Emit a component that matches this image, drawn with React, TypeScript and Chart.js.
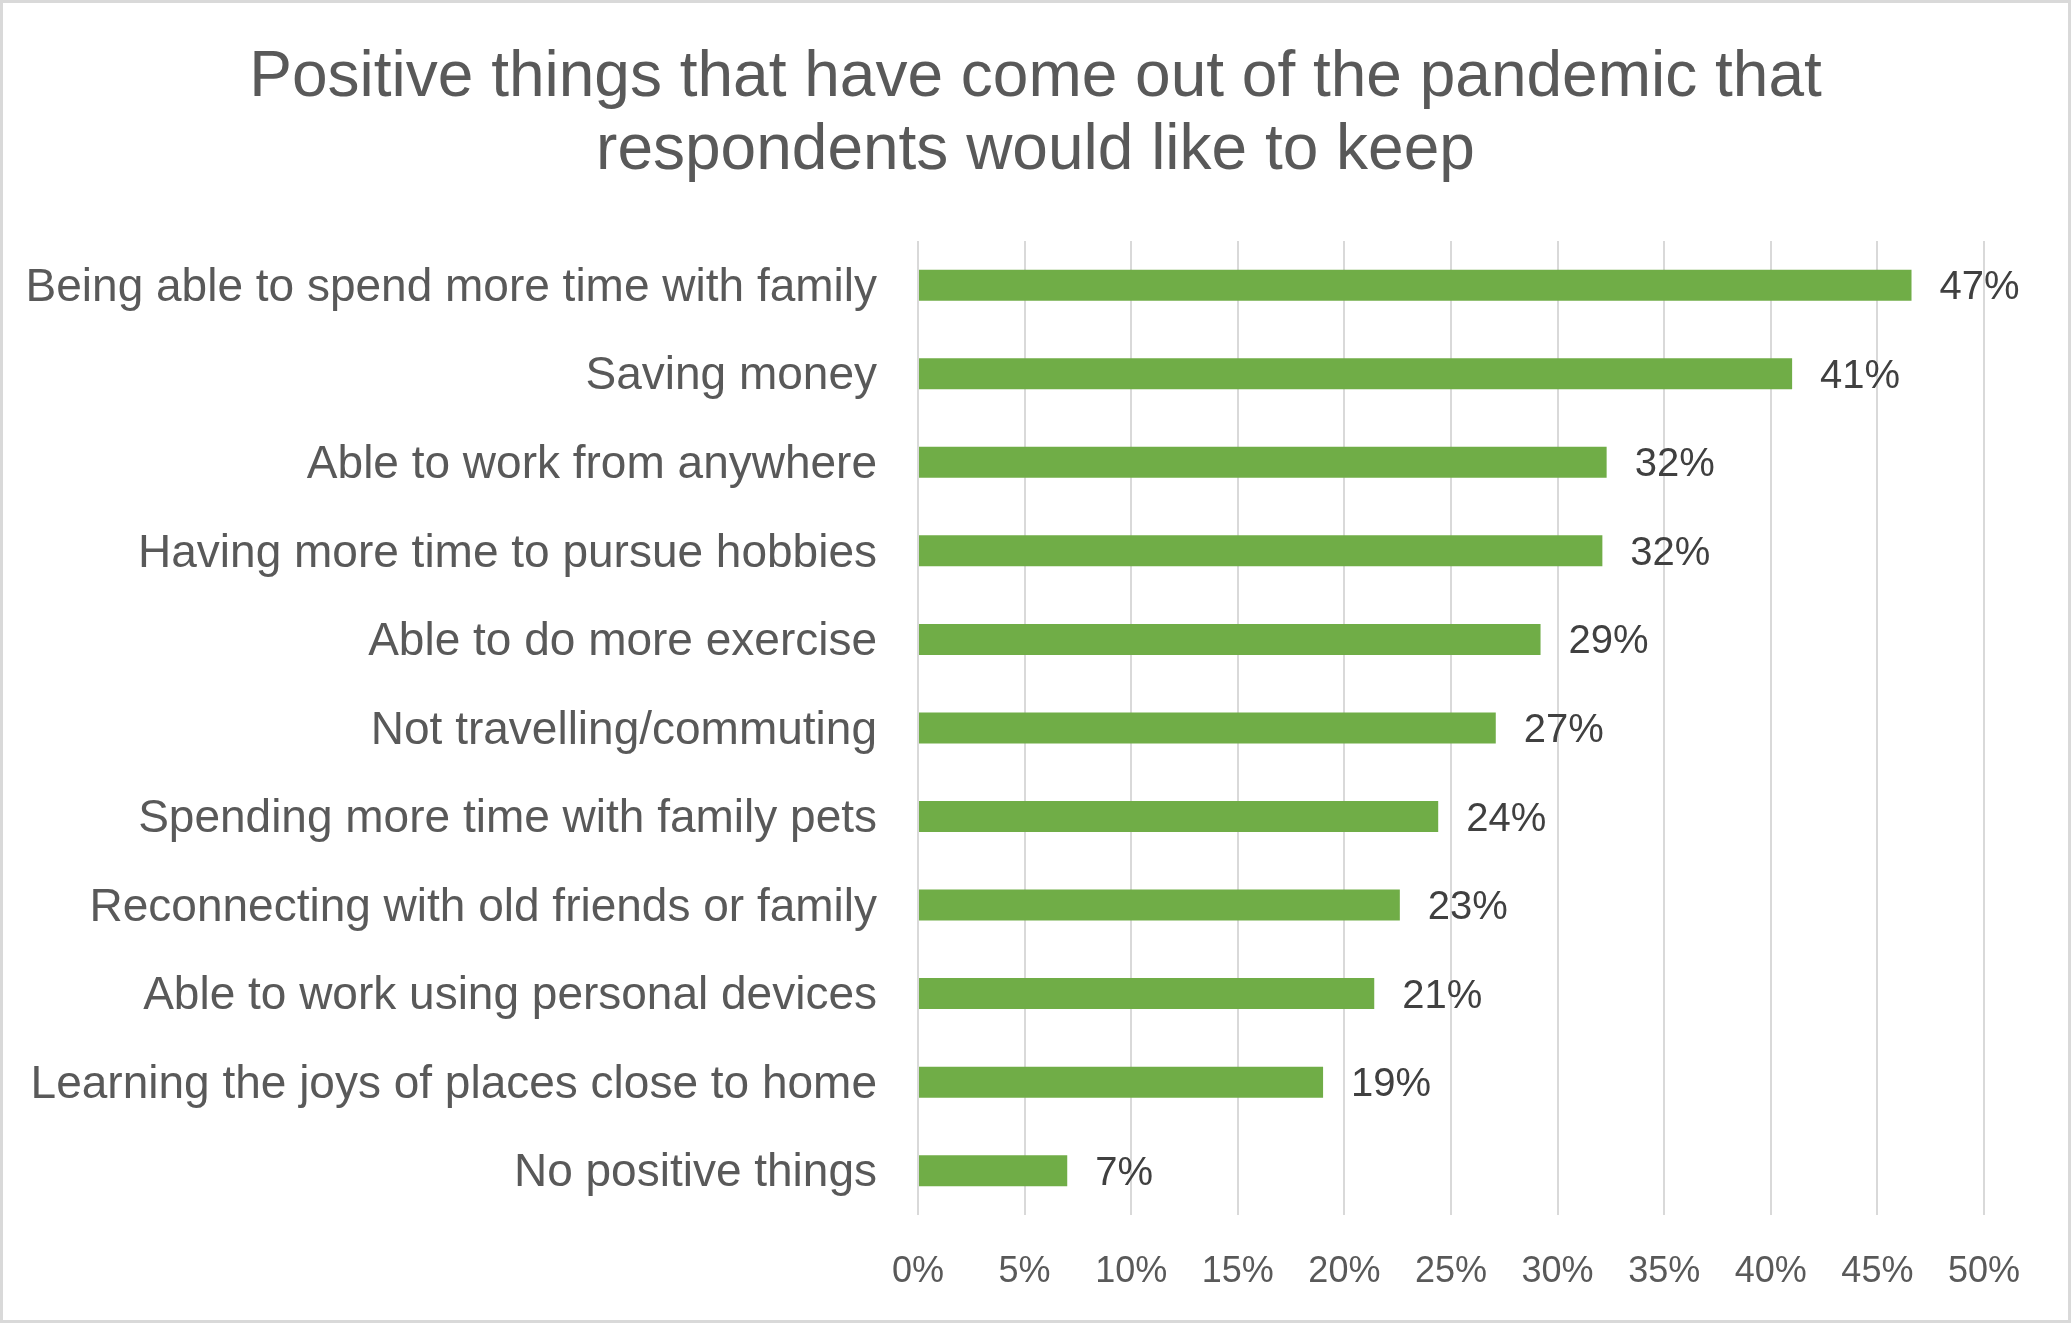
import React, { useEffect, useRef } from "react";
import { Chart, registerables } from "chart.js";

Chart.register(...registerables);

const titleLines = [
  "Positive things that have come out of the pandemic that",
  "respondents would like to keep",
];

const categories = [
  "Being able to spend more time with family",
  "Saving money",
  "Able to work from anywhere",
  "Having more time to pursue hobbies",
  "Able to do more exercise",
  "Not travelling/commuting",
  "Spending more time with family pets",
  "Reconnecting with old friends or family",
  "Able to work using personal devices",
  "Learning the joys of places close to home",
  "No positive things",
];

const values = [46.6, 41.0, 32.3, 32.1, 29.2, 27.1, 24.4, 22.6, 21.4, 19.0, 7.0];

const xMin = 0;
const xMax = 50;
const xStep = 5;

const FONT = "'Liberation Sans', Arial, sans-serif";
const W = 2071;
const H = 1323;
const BORDER = 3;

const dataLabelPlugin = {
  id: "dataLabels",
  afterDatasetsDraw(chart: any) {
    const ctx = chart.ctx;
    const meta = chart.getDatasetMeta(0);
    ctx.save();
    ctx.font = `40px ${FONT}`;
    ctx.fillStyle = "#404040";
    ctx.textAlign = "left";
    ctx.textBaseline = "middle";
    meta.data.forEach((bar: any, i: number) => {
      const v = chart.data.datasets[0].data[i] as number;
      ctx.fillText(`${Math.round(v)}%`, bar.x + 28, bar.y + 3);
    });
    ctx.restore();
  },
};

export default function App() {
  const ref = useRef<HTMLCanvasElement | null>(null);

  useEffect(() => {
    document.body.style.margin = "0";
    const canvas = ref.current;
    if (!canvas) return;
    const chart = new Chart(canvas, {
      type: "bar",
      data: {
        labels: categories,
        datasets: [
          {
            data: values,
            backgroundColor: "#70ad47",
            borderWidth: 0,
            categoryPercentage: 1,
            barPercentage: 0.35,
          },
        ],
      },
      plugins: [dataLabelPlugin],
      options: {
        indexAxis: "y",
        responsive: false,
        animation: false,
        layout: { padding: 0 },
        plugins: {
          legend: { display: false },
          tooltip: { enabled: false },
          title: {
            display: true,
            text: titleLines,
            color: "#595959",
            font: { family: FONT, size: 64, weight: "normal", lineHeight: 1.14 },
            padding: { top: 39, bottom: 53 },
          },
        },
        scales: {
          x: {
            min: xMin,
            max: xMax,
            position: "bottom",
            grid: { color: "#d9d9d9", lineWidth: 2, drawTicks: false },
            border: { display: false },
            ticks: {
              stepSize: xStep,
              padding: 35,
              color: "#595959",
              font: { family: FONT, size: 36 },
              maxRotation: 0,
              callback: (v: any) => `${v}%`,
            },
            afterFit: (scale: any) => {
              scale.height = 105;
            },
          },
          y: {
            grid: { display: false, drawTicks: false },
            border: { display: false },
            ticks: {
              padding: 41,
              labelOffset: 3,
              color: "#595959",
              font: { family: FONT, size: 46 },
              autoSkip: false,
            },
            afterFit: (scale: any) => {
              scale.width = 915;
            },
          },
          yRight: {
            type: "linear",
            position: "right",
            grid: { display: false, drawTicks: false },
            border: { display: false },
            ticks: { display: false },
            afterFit: (scale: any) => {
              scale.width = 84;
            },
          },
        },
      },
    });
    return () => chart.destroy();
  }, []);

  return (
    <div
      style={{
        width: W,
        height: H,
        boxSizing: "border-box",
        border: `${BORDER}px solid #d9d9d9`,
        background: "#ffffff",
      }}
    >
      <canvas ref={ref} width={W - 2 * BORDER} height={H - 2 * BORDER} style={{ display: "block" }} />
    </div>
  );
}
